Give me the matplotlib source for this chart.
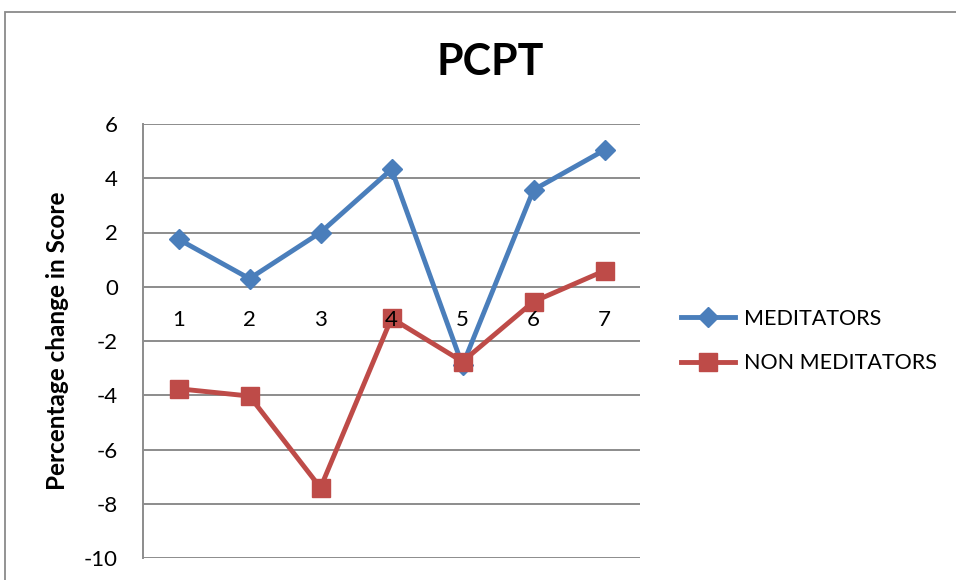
import matplotlib
matplotlib.use("Agg")
import matplotlib.pyplot as plt
from matplotlib.patches import Rectangle

plt.rcParams['font.family'] = ['Lato', 'DejaVu Sans']

categories = ["1", "2", "3", "4", "5", "6", "7"]
meditators = [1.75, 0.3, 2.0, 4.33, -2.9, 3.57, 5.04]
non_meditators = [-3.76, -4.03, -7.41, -1.16, -2.76, -0.55, 0.59]
y_ticks = [-10, -8, -6, -4, -2, 0, 2, 4, 6]

W, H = 956, 580
fig = plt.figure(figsize=(W / 100, H / 100), dpi=100)

# outer chart frame
fig.patches.append(Rectangle((5 / W, -0.1), 1.2, (H - 12) / H + 0.1, transform=fig.transFigure,
                             fill=False, edgecolor='#8a8a8a', linewidth=1.3))

ax = fig.add_axes([143 / W, (H - 558) / H, (640 - 143) / W, (558 - 124) / H])
x = list(range(1, len(categories) + 1))

ax.plot(x, meditators, color='#4A7EBB', linewidth=3.5, marker='D', markersize=10,
        label='MEDITATORS', zorder=3)
ax.plot(x, non_meditators, color='#BE4B48', linewidth=3.5, marker='s', markersize=13,
        label='NON MEDITATORS', zorder=4)

ax.set_xlim(0.5, len(categories) + 0.5)
ax.set_ylim(-10, 6)
ax.set_yticks(y_ticks)
ax.set_yticklabels([str(v) for v in y_ticks])
ax.set_xticks(x)
ax.set_xticklabels(categories)
ax.yaxis.grid(True, color='#8c8c8c', linewidth=1.4)
ax.set_axisbelow(True)
ax.xaxis.set_zorder(6)

for s in ['top', 'right']:
    ax.spines[s].set_visible(False)
ax.spines['left'].set_color('#8c8c8c')
ax.spines['left'].set_linewidth(1.4)
ax.spines['bottom'].set_position(('data', 0))
ax.spines['bottom'].set_visible(False)
ax.tick_params(axis='x', length=0, pad=17, labelsize=16)
ax.tick_params(axis='y', length=0, pad=18, labelsize=16)

ax.set_ylabel('Percentage change in Score', fontsize=17.5, fontweight='bold', labelpad=11)
fig.text(490 / W, 1 - 62 / H, 'PCPT', fontsize=31, fontweight='bold', ha='center', va='center')

fig.legend(loc='center left', bbox_to_anchor=(670 / W, 1 - 341 / H), frameon=False,
           fontsize=15.5, handlelength=2.5, handletextpad=0.45, labelspacing=1.15,
           borderpad=0)

fig.savefig('out.png', dpi=100)
